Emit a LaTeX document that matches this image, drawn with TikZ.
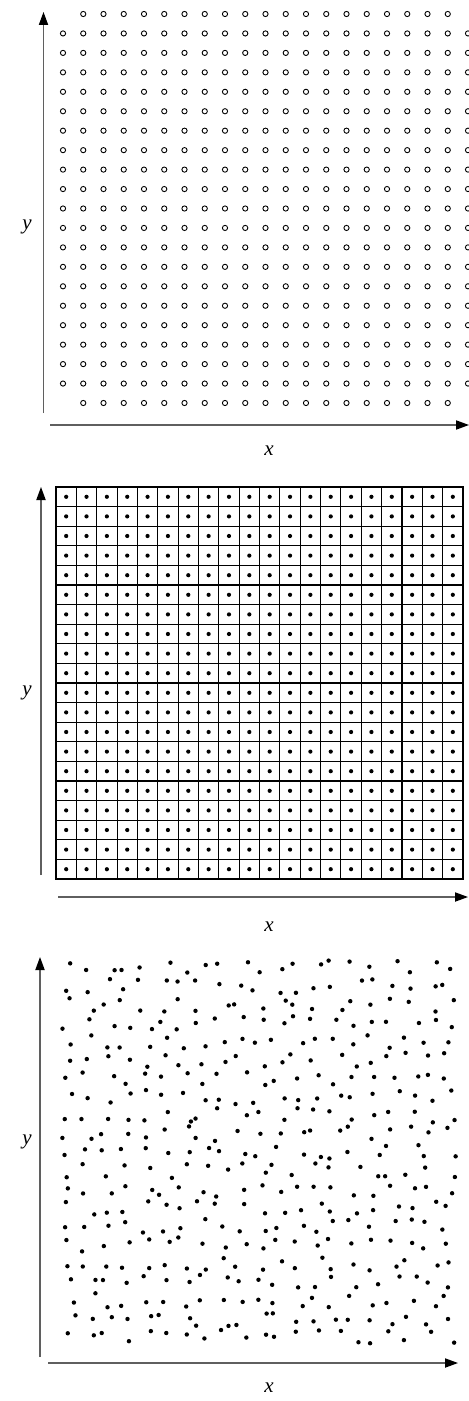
\documentclass[tikz,border=0pt]{standalone}
\usepackage{fontspec}
\setmainfont{Liberation Serif}
\usepackage{tikz}
\usetikzlibrary{arrows.meta}
\definecolor{axgray}{RGB}{95,95,95}

\tikzset{
  axis/.style={axgray, line width=0.6pt, -{Triangle[length=6.5pt,width=4.6pt,color=black]}},
  lbl/.style={font=\fontsize{10.5}{12}\selectfont\itshape}
}

\begin{document}
\begin{tikzpicture}[x=0.5pt, y=-0.5pt]
  \useasboundingbox (0,0) rectangle (469,1401);

  % ---- panel 1: lattice of open sites
  \draw[axis] (43.5,413) -- (43.5,12);
  \draw[axis] (50,425) -- (469,425);
  \node[lbl] (ya) at (27,227) {y};
  \node[lbl] (xa) at (269,451) {x};
  \foreach \i in {0,...,20}{
    \foreach \j in {0,...,20}{
      \pgfmathtruncatemacro{\edge}{(\i==0 || \i==20) && (\j==0 || \j==20)}
      \ifnum\edge=0
        \draw[line width=0.45pt] ({63+20.25*\j},{14+19.45*\i}) circle (2.6);
      \fi
    }
  }

  % ---- panel 2: cells with centre points
  \draw[axis] (41,875) -- (41,487);
  \draw[axis] (58,897) -- (468,897);
  \node[lbl] (yb) at (27,693) {y};
  \node[lbl] (xb) at (269,927) {x};
  \draw[line width=0.55pt] (56,487) rectangle (463,879);
  \foreach \j in {1,...,19}{\draw[line width=0.55pt] ({56+20.35*\j},487) -- ({56+20.35*\j},879);}
  \foreach \i in {1,...,19}{\draw[line width=0.55pt] (56,{487+19.6*\i}) -- (463,{487+19.6*\i});}
  \foreach \i in {0,...,19}{
    \foreach \j in {0,...,19}{
      \fill ({56+20.35*(\j+0.5)},{487+19.6*(\i+0.5)}) circle (2.1);
    }
  }

  % ---- panel 3: scattered points (jittered)
  \draw[axis] (40,1357) -- (40,957);
  \draw[axis] (48,1363) -- (458,1363);
  \node[lbl] (yc) at (27,1142) {y};
  \node[lbl] (xc) at (269,1388) {x};
  \pgfmathsetseed{4271}
  \foreach \i in {0,...,20}{
    \foreach \j in {0,...,20}{
      \fill ({60+19*\j+19*(0.1+0.8*rnd)},{958+18.5*\i+18.5*(0.1+0.8*rnd)}) circle (2.2);
    }
  }
\end{tikzpicture}
\end{document}
